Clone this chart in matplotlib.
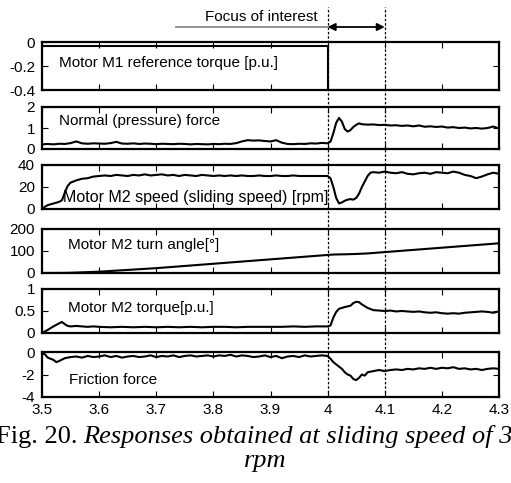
import numpy as np
import matplotlib
matplotlib.use("Agg")
import matplotlib.pyplot as plt
import matplotlib.transforms as mtransforms
from matplotlib.ticker import FormatStrFormatter

plt.rcParams['font.family'] = ['Liberation Sans', 'DejaVu Sans']
plt.rcParams['axes.unicode_minus'] = False

# --- Data ---
# Panel 1: motor M1 reference torque [p.u.]
t_ref = [3.50, 4.00, 4.00, 4.30]
ref_torque = [-0.035, -0.035, -0.40, -0.40]

# Panel 2: normal (pressure) force
t_norm = [3.50, 3.51, 3.52, 3.53, 3.54, 3.55, 3.56, 3.57, 3.58, 3.59,
          3.60, 3.61, 3.62, 3.63, 3.64, 3.65, 3.66, 3.67, 3.68, 3.69,
          3.70, 3.71, 3.72, 3.73, 3.74, 3.75, 3.76, 3.77, 3.78, 3.79,
          3.80, 3.81, 3.82, 3.83, 3.84, 3.85, 3.86, 3.87, 3.88, 3.89,
          3.90, 3.91, 3.92, 3.93, 3.94, 3.95, 3.96, 3.97, 3.98, 3.99,
          4.00, 4.005, 4.01, 4.015, 4.02, 4.025, 4.03, 4.035, 4.04, 4.045,
          4.05, 4.055, 4.06, 4.07, 4.08, 4.09, 4.10, 4.11, 4.12, 4.13,
          4.14, 4.15, 4.16, 4.17, 4.18, 4.19, 4.20, 4.21, 4.22, 4.23,
          4.24, 4.25, 4.26, 4.27, 4.28, 4.29, 4.30]
normal_force = [0.22, 0.24, 0.22, 0.25, 0.24, 0.28, 0.36, 0.27, 0.25, 0.27,
                0.26, 0.25, 0.28, 0.34, 0.26, 0.25, 0.27, 0.24, 0.26, 0.25,
                0.23, 0.25, 0.24, 0.23, 0.25, 0.24, 0.22, 0.24, 0.23, 0.22,
                0.24, 0.23, 0.25, 0.24, 0.28, 0.36, 0.42, 0.40, 0.41, 0.38,
                0.36, 0.42, 0.30, 0.24, 0.23, 0.25, 0.24, 0.27, 0.26, 0.29,
                0.27, 0.35, 0.75, 1.25, 1.48, 1.30, 0.95, 0.83, 0.90, 1.05,
                1.15, 1.22, 1.18, 1.16, 1.17, 1.14, 1.15, 1.12, 1.13, 1.10,
                1.12, 1.08, 1.12, 1.06, 1.08, 1.05, 1.07, 1.02, 1.04, 1.00,
                1.02, 0.98, 1.00, 0.97, 1.00, 1.07, 0.98]

# Panel 3: motor M2 speed [rpm]
t_speed = [3.50, 3.505, 3.51, 3.52, 3.53, 3.535, 3.54, 3.545, 3.55, 3.56,
           3.57, 3.58, 3.59, 3.60, 3.61, 3.62, 3.63, 3.64, 3.65, 3.66,
           3.67, 3.68, 3.69, 3.70, 3.71, 3.72, 3.73, 3.74, 3.75, 3.76,
           3.77, 3.78, 3.79, 3.80, 3.81, 3.82, 3.83, 3.84, 3.85, 3.86,
           3.87, 3.88, 3.89, 3.90, 3.91, 3.92, 3.93, 3.94, 3.95, 3.96,
           3.97, 3.98, 3.99, 4.00, 4.005, 4.01, 4.015, 4.02, 4.025, 4.03,
           4.035, 4.04, 4.045, 4.05, 4.055, 4.06, 4.065, 4.07, 4.075, 4.08,
           4.09, 4.10, 4.11, 4.12, 4.13, 4.14, 4.15, 4.16, 4.17, 4.18,
           4.19, 4.20, 4.21, 4.22, 4.23, 4.24, 4.25, 4.26, 4.27, 4.28,
           4.29, 4.30]
speed = [0, 2, 3.5, 5, 6.5, 8, 15, 21, 24, 26,
         27.5, 28, 29.5, 30, 30.5, 30, 31, 30.5, 30, 31,
         30.5, 31.5, 30.5, 31, 31.5, 30.5, 31, 30, 31, 30.5,
         30, 31, 30.5, 30, 30.5, 30, 30.5, 30, 30.5, 30,
         30, 30.5, 30, 30, 30.5, 30, 30, 30.5, 30, 30,
         30, 30, 30, 30, 28, 20, 10, 5, 6, 7.5,
         8.5, 9, 8.5, 10, 14, 20, 25, 30, 33, 33.5,
         33, 34, 33, 32.5, 33.5, 32, 31.5, 32.5, 33, 32,
         33.5, 33, 32.5, 34, 33, 31, 30, 28, 29.5, 31.5,
         33, 32]

# Panel 4: motor M2 turn angle [deg]
t_angle = [3.50, 3.54, 3.55, 3.60, 3.70, 3.80, 3.90, 4.00, 4.01, 4.03,
           4.05, 4.07, 4.10, 4.20, 4.30]
angle = [0, 0.5, 1, 6, 22, 42, 62, 82, 84, 85,
         86.5, 89, 95, 115, 135]

# Panel 5: motor M2 torque [p.u.]
t_torque = [3.50, 3.51, 3.52, 3.53, 3.535, 3.54, 3.545, 3.55, 3.56, 3.57,
            3.58, 3.59, 3.60, 3.62, 3.64, 3.66, 3.68, 3.70, 3.72, 3.74,
            3.76, 3.78, 3.80, 3.82, 3.84, 3.86, 3.88, 3.90, 3.92, 3.94,
            3.96, 3.98, 4.00, 4.005, 4.01, 4.015, 4.02, 4.03, 4.04, 4.045,
            4.05, 4.055, 4.06, 4.07, 4.08, 4.09, 4.10, 4.11, 4.12, 4.13,
            4.14, 4.15, 4.16, 4.17, 4.18, 4.19, 4.20, 4.21, 4.22, 4.23,
            4.24, 4.25, 4.26, 4.27, 4.28, 4.29, 4.30]
torque = [0.0, 0.07, 0.15, 0.22, 0.25, 0.20, 0.16, 0.15, 0.16, 0.15,
          0.14, 0.15, 0.14, 0.13, 0.14, 0.13, 0.14, 0.13, 0.14, 0.13,
          0.14, 0.13, 0.14, 0.14, 0.13, 0.14, 0.14, 0.14, 0.14, 0.15,
          0.14, 0.15, 0.15, 0.17, 0.35, 0.48, 0.55, 0.59, 0.62, 0.68,
          0.71, 0.70, 0.65, 0.57, 0.52, 0.51, 0.50, 0.51, 0.49, 0.50,
          0.49, 0.48, 0.49, 0.47, 0.46, 0.47, 0.45, 0.44, 0.45, 0.44,
          0.46, 0.47, 0.48, 0.49, 0.48, 0.46, 0.49]

# Panel 6: friction force
t_fric = [3.50, 3.505, 3.51, 3.52, 3.525, 3.53, 3.54, 3.55, 3.56, 3.57,
          3.58, 3.59, 3.60, 3.61, 3.62, 3.63, 3.64, 3.65, 3.66, 3.67,
          3.68, 3.69, 3.70, 3.71, 3.72, 3.73, 3.74, 3.75, 3.76, 3.77,
          3.78, 3.79, 3.80, 3.81, 3.82, 3.83, 3.84, 3.85, 3.86, 3.87,
          3.88, 3.89, 3.90, 3.91, 3.92, 3.93, 3.94, 3.95, 3.96, 3.97,
          3.98, 3.99, 4.00, 4.005, 4.01, 4.02, 4.025, 4.03, 4.035, 4.04,
          4.045, 4.05, 4.055, 4.06, 4.065, 4.07, 4.08, 4.09, 4.10, 4.11,
          4.12, 4.13, 4.14, 4.15, 4.16, 4.17, 4.18, 4.19, 4.20, 4.21,
          4.22, 4.23, 4.24, 4.25, 4.26, 4.27, 4.28, 4.29, 4.30]
friction = [-0.1, -0.2, -0.5, -0.7, -0.9, -0.8, -0.55, -0.45, -0.4, -0.5,
            -0.35, -0.45, -0.4, -0.3, -0.45, -0.35, -0.5, -0.4, -0.35, -0.45,
            -0.4, -0.3, -0.45, -0.35, -0.4, -0.3, -0.45, -0.35, -0.3, -0.4,
            -0.35, -0.3, -0.4, -0.3, -0.35, -0.25, -0.4, -0.3, -0.35, -0.45,
            -0.4, -0.3, -0.45, -0.35, -0.55, -0.4, -0.35, -0.45, -0.3, -0.4,
            -0.35, -0.3, -0.35, -0.6, -0.9, -1.3, -1.5, -1.8, -2.0, -2.1,
            -2.4, -2.5, -2.3, -2.0, -2.1, -1.8, -1.7, -1.6, -1.7, -1.6,
            -1.55, -1.6, -1.5, -1.55, -1.45, -1.5, -1.4, -1.5, -1.4, -1.45,
            -1.35, -1.5, -1.45, -1.55, -1.5, -1.6, -1.5, -1.45, -1.5]

series = [(t_ref, ref_torque), (t_norm, normal_force), (t_speed, speed),
          (t_angle, angle), (t_torque, torque), (t_fric, friction)]
labels = ["Motor M1 reference torque [p.u.]", "Normal (pressure) force",
          "Motor M2 speed (sliding speed) [rpm]", "Motor M2 turn angle[°]",
          "Motor M2 torque[p.u.]", "Friction force"]
ylims = [(-0.4, 0), (0, 2), (0, 40), (0, 200), (0, 1), (-4, 0)]
yticks = [[-0.4, -0.2, 0], [0, 1, 2], [0, 20, 40], [0, 100, 200],
          [0, 0.5, 1], [-4, -2, 0]]
xticks = [3.5, 3.6, 3.7, 3.8, 3.9, 4.0, 4.1, 4.2, 4.3]
focus = [4.0, 4.1]

# panel boxes in pixels (top, bottom) and text placement
W, H = 511, 483
left_px, right_px = 42, 499
boxes = [(42, 90), (107, 149), (165, 209), (229, 273), (289, 333), (352, 397)]
label_pos = [(0.037, 0.56), (0.037, 0.66), (0.046, 0.27),
             (0.057, 0.64), (0.057, 0.57), (0.060, 0.38)]
label_size = [11, 11, 11.5, 11, 11, 11]

fig = plt.figure(figsize=(W / 100, H / 100), dpi=100)
axes = []
for i, (top, bot) in enumerate(boxes):
    ax = fig.add_axes([left_px / W, 1 - bot / H, (right_px - left_px) / W,
                       (bot - top) / H])
    t, v = series[i]
    ax.plot(t, v, color='black', linewidth=1.5, clip_on=True)
    ax.set_xlim(3.5, 4.3)
    ax.set_ylim(*ylims[i])
    ax.set_yticks(yticks[i])
    ax.set_xticks(xticks)
    ax.yaxis.set_major_formatter(FormatStrFormatter('%g'))
    ax.xaxis.set_major_formatter(FormatStrFormatter('%g'))
    ax.tick_params(direction='in', top=True, right=True, length=4,
                   width=0.8, labelsize=11, pad=4)
    ax.tick_params(axis='y', pad=5)
    if i < len(boxes) - 1:
        ax.tick_params(labelbottom=False)
    for s in ax.spines.values():
        s.set_linewidth(1.6)
    ax.text(label_pos[i][0], label_pos[i][1], labels[i], transform=ax.transAxes,
            fontsize=label_size[i], ha='left', va='center')
    axes.append(ax)

# dotted vertical lines spanning all panels
bax = axes[-1]
trans = mtransforms.blended_transform_factory(bax.transData, fig.transFigure)
y_top = 1 - 7 / H
y_bot = 1 - boxes[-1][1] / H
for xf in focus:
    fig.add_artist(plt.Line2D([xf, xf], [y_bot, y_top], transform=trans,
                              color='black', linewidth=0.9,
                              linestyle=(0, (2, 1.5))))

# focus of interest annotation
y_arrow = 1 - 27 / H
fig.add_artist(plt.Line2D([3.735, focus[0]], [y_arrow, y_arrow],
                          transform=trans, color='#8a8a8a', linewidth=1.3))
bax.annotate('', xy=(focus[1], y_arrow), xytext=(focus[0], y_arrow),
             xycoords=trans, textcoords=trans, annotation_clip=False,
             arrowprops=dict(arrowstyle='<|-|>', color='black', lw=1.3,
                             shrinkA=0, shrinkB=0, mutation_scale=11))
bax.text(3.983, 1 - 17 / H, "Focus of interest", transform=trans,
         fontsize=11, ha='right', va='center')

# caption (cut at both sides like the reference)
serif = ['Liberation Serif', 'DejaVu Serif']
fig.text(77 / W, 1 - 443 / H, "Fig. 20.", family=serif, fontsize=19,
         ha='right', va='baseline')
fig.text(83 / W, 1 - 443 / H, "Responses obtained at sliding speed of 30",
         family=serif, style='italic', fontsize=19, ha='left', va='baseline')
fig.text(265 / W, 1 - 467 / H, "rpm", family=serif, style='italic',
         fontsize=19, ha='center', va='baseline')

fig.savefig("out.png", dpi=100)
